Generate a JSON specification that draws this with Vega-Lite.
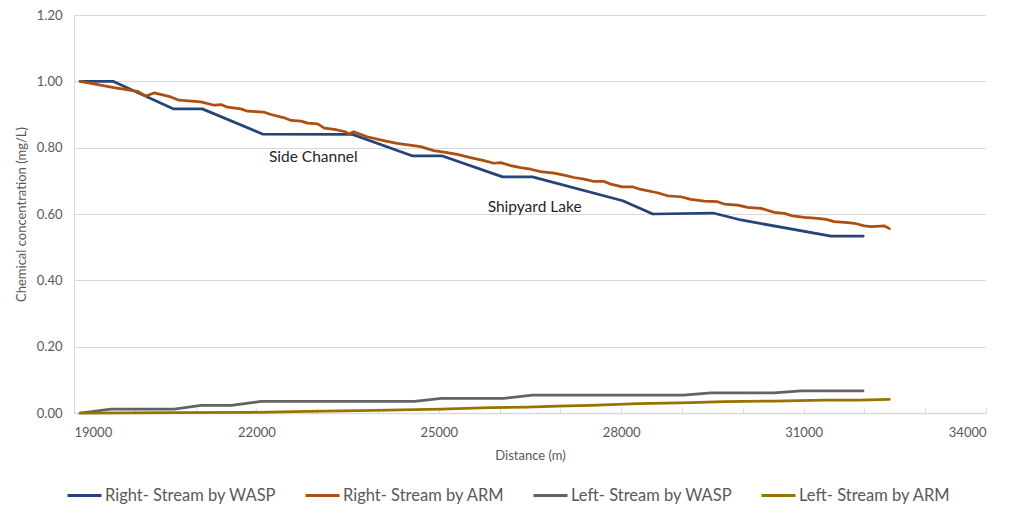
{
  "$schema": "https://vega.github.io/schema/vega-lite/v6.json",
  "width": 912,
  "height": 398,
  "autosize": {"type": "none"},
  "padding": {"left": 74, "top": 15, "right": 27, "bottom": 98},
  "background": "white",
  "config": {
    "view": {"stroke": null},
    "font": "Lato",
    "axis": {"labelFont": "Lato", "titleFont": "Lato", "labelColor": "#595959", "titleColor": "#595959", "labelFontSize": 13, "titleFontSize": 13, "titleFontWeight": "normal", "domainColor": "#D9D9D9", "tickColor": "#D9D9D9", "gridColor": "#D9D9D9"}
  },
  "datasets": {
    "lines": [
      {"s": "Right- Stream by WASP", "d": 19100, "c": 1.0},
      {"s": "Right- Stream by WASP", "d": 19640, "c": 1.0},
      {"s": "Right- Stream by WASP", "d": 20630, "c": 0.917},
      {"s": "Right- Stream by WASP", "d": 21110, "c": 0.917},
      {"s": "Right- Stream by WASP", "d": 22100, "c": 0.841},
      {"s": "Right- Stream by WASP", "d": 23580, "c": 0.84},
      {"s": "Right- Stream by WASP", "d": 24570, "c": 0.775},
      {"s": "Right- Stream by WASP", "d": 25060, "c": 0.775},
      {"s": "Right- Stream by WASP", "d": 26050, "c": 0.712},
      {"s": "Right- Stream by WASP", "d": 26540, "c": 0.712},
      {"s": "Right- Stream by WASP", "d": 28025, "c": 0.64},
      {"s": "Right- Stream by WASP", "d": 28520, "c": 0.6},
      {"s": "Right- Stream by WASP", "d": 29510, "c": 0.603},
      {"s": "Right- Stream by WASP", "d": 29970, "c": 0.582},
      {"s": "Right- Stream by WASP", "d": 31450, "c": 0.533},
      {"s": "Right- Stream by WASP", "d": 31980, "c": 0.533},
      {"s": "Right- Stream by ARM", "d": 19100, "c": 1.0},
      {"s": "Right- Stream by ARM", "d": 19659, "c": 0.981},
      {"s": "Right- Stream by ARM", "d": 20043, "c": 0.97},
      {"s": "Right- Stream by ARM", "d": 20181, "c": 0.956},
      {"s": "Right- Stream by ARM", "d": 20318, "c": 0.965},
      {"s": "Right- Stream by ARM", "d": 20593, "c": 0.953},
      {"s": "Right- Stream by ARM", "d": 20729, "c": 0.943},
      {"s": "Right- Stream by ARM", "d": 21087, "c": 0.938},
      {"s": "Right- Stream by ARM", "d": 21306, "c": 0.928},
      {"s": "Right- Stream by ARM", "d": 21416, "c": 0.93},
      {"s": "Right- Stream by ARM", "d": 21525, "c": 0.922},
      {"s": "Right- Stream by ARM", "d": 21745, "c": 0.917},
      {"s": "Right- Stream by ARM", "d": 21854, "c": 0.91},
      {"s": "Right- Stream by ARM", "d": 22129, "c": 0.907},
      {"s": "Right- Stream by ARM", "d": 22240, "c": 0.9},
      {"s": "Right- Stream by ARM", "d": 22459, "c": 0.89},
      {"s": "Right- Stream by ARM", "d": 22569, "c": 0.882},
      {"s": "Right- Stream by ARM", "d": 22734, "c": 0.88},
      {"s": "Right- Stream by ARM", "d": 22843, "c": 0.874},
      {"s": "Right- Stream by ARM", "d": 23007, "c": 0.872},
      {"s": "Right- Stream by ARM", "d": 23118, "c": 0.859},
      {"s": "Right- Stream by ARM", "d": 23282, "c": 0.855},
      {"s": "Right- Stream by ARM", "d": 23463, "c": 0.848},
      {"s": "Right- Stream by ARM", "d": 23518, "c": 0.841},
      {"s": "Right- Stream by ARM", "d": 23600, "c": 0.848},
      {"s": "Right- Stream by ARM", "d": 23821, "c": 0.833},
      {"s": "Right- Stream by ARM", "d": 24094, "c": 0.821},
      {"s": "Right- Stream by ARM", "d": 24315, "c": 0.813},
      {"s": "Right- Stream by ARM", "d": 24699, "c": 0.803},
      {"s": "Right- Stream by ARM", "d": 24918, "c": 0.791},
      {"s": "Right- Stream by ARM", "d": 25139, "c": 0.785},
      {"s": "Right- Stream by ARM", "d": 25303, "c": 0.78},
      {"s": "Right- Stream by ARM", "d": 25522, "c": 0.77},
      {"s": "Right- Stream by ARM", "d": 25742, "c": 0.761},
      {"s": "Right- Stream by ARM", "d": 25906, "c": 0.753},
      {"s": "Right- Stream by ARM", "d": 26016, "c": 0.755},
      {"s": "Right- Stream by ARM", "d": 26181, "c": 0.746},
      {"s": "Right- Stream by ARM", "d": 26346, "c": 0.74},
      {"s": "Right- Stream by ARM", "d": 26510, "c": 0.735},
      {"s": "Right- Stream by ARM", "d": 26675, "c": 0.728},
      {"s": "Right- Stream by ARM", "d": 26895, "c": 0.723},
      {"s": "Right- Stream by ARM", "d": 27059, "c": 0.717},
      {"s": "Right- Stream by ARM", "d": 27224, "c": 0.71},
      {"s": "Right- Stream by ARM", "d": 27389, "c": 0.705},
      {"s": "Right- Stream by ARM", "d": 27553, "c": 0.698},
      {"s": "Right- Stream by ARM", "d": 27718, "c": 0.698},
      {"s": "Right- Stream by ARM", "d": 27828, "c": 0.69},
      {"s": "Right- Stream by ARM", "d": 28020, "c": 0.682},
      {"s": "Right- Stream by ARM", "d": 28185, "c": 0.682},
      {"s": "Right- Stream by ARM", "d": 28322, "c": 0.674},
      {"s": "Right- Stream by ARM", "d": 28597, "c": 0.664},
      {"s": "Right- Stream by ARM", "d": 28762, "c": 0.655},
      {"s": "Right- Stream by ARM", "d": 28981, "c": 0.652},
      {"s": "Right- Stream by ARM", "d": 29146, "c": 0.644},
      {"s": "Right- Stream by ARM", "d": 29365, "c": 0.639},
      {"s": "Right- Stream by ARM", "d": 29585, "c": 0.637},
      {"s": "Right- Stream by ARM", "d": 29694, "c": 0.63},
      {"s": "Right- Stream by ARM", "d": 29915, "c": 0.627},
      {"s": "Right- Stream by ARM", "d": 30079, "c": 0.62},
      {"s": "Right- Stream by ARM", "d": 30298, "c": 0.617},
      {"s": "Right- Stream by ARM", "d": 30518, "c": 0.605},
      {"s": "Right- Stream by ARM", "d": 30682, "c": 0.602},
      {"s": "Right- Stream by ARM", "d": 30821, "c": 0.594},
      {"s": "Right- Stream by ARM", "d": 31012, "c": 0.59},
      {"s": "Right- Stream by ARM", "d": 31232, "c": 0.587},
      {"s": "Right- Stream by ARM", "d": 31369, "c": 0.584},
      {"s": "Right- Stream by ARM", "d": 31506, "c": 0.577},
      {"s": "Right- Stream by ARM", "d": 31726, "c": 0.574},
      {"s": "Right- Stream by ARM", "d": 31835, "c": 0.572},
      {"s": "Right- Stream by ARM", "d": 32000, "c": 0.564},
      {"s": "Right- Stream by ARM", "d": 32110, "c": 0.562},
      {"s": "Right- Stream by ARM", "d": 32330, "c": 0.564},
      {"s": "Right- Stream by ARM", "d": 32412, "c": 0.556},
      {"s": "Left- Stream by WASP", "d": 19100, "c": 0.0},
      {"s": "Left- Stream by WASP", "d": 19610, "c": 0.012},
      {"s": "Left- Stream by WASP", "d": 20647, "c": 0.012},
      {"s": "Left- Stream by WASP", "d": 21092, "c": 0.023},
      {"s": "Left- Stream by WASP", "d": 21586, "c": 0.023},
      {"s": "Left- Stream by WASP", "d": 22080, "c": 0.035},
      {"s": "Left- Stream by WASP", "d": 24600, "c": 0.035},
      {"s": "Left- Stream by WASP", "d": 25044, "c": 0.044},
      {"s": "Left- Stream by WASP", "d": 26066, "c": 0.044},
      {"s": "Left- Stream by WASP", "d": 26543, "c": 0.054},
      {"s": "Left- Stream by WASP", "d": 29030, "c": 0.054},
      {"s": "Left- Stream by WASP", "d": 29475, "c": 0.061},
      {"s": "Left- Stream by WASP", "d": 30513, "c": 0.061},
      {"s": "Left- Stream by WASP", "d": 30957, "c": 0.067},
      {"s": "Left- Stream by WASP", "d": 31978, "c": 0.067},
      {"s": "Left- Stream by ARM", "d": 19100, "c": 0.0},
      {"s": "Left- Stream by ARM", "d": 20650, "c": 0.001},
      {"s": "Left- Stream by ARM", "d": 21900, "c": 0.002},
      {"s": "Left- Stream by ARM", "d": 22840, "c": 0.005},
      {"s": "Left- Stream by ARM", "d": 23940, "c": 0.008},
      {"s": "Left- Stream by ARM", "d": 25040, "c": 0.012},
      {"s": "Left- Stream by ARM", "d": 25850, "c": 0.016},
      {"s": "Left- Stream by ARM", "d": 26455, "c": 0.018},
      {"s": "Left- Stream by ARM", "d": 26950, "c": 0.021},
      {"s": "Left- Stream by ARM", "d": 27500, "c": 0.023},
      {"s": "Left- Stream by ARM", "d": 28270, "c": 0.028},
      {"s": "Left- Stream by ARM", "d": 29150, "c": 0.031},
      {"s": "Left- Stream by ARM", "d": 29690, "c": 0.034},
      {"s": "Left- Stream by ARM", "d": 30510, "c": 0.036},
      {"s": "Left- Stream by ARM", "d": 31340, "c": 0.039},
      {"s": "Left- Stream by ARM", "d": 31890, "c": 0.039},
      {"s": "Left- Stream by ARM", "d": 32410, "c": 0.041}
    ],
    "notes": [
      {"label": "Side Channel", "d": 22936, "c": 0.772},
      {"label": "Shipyard Lake", "d": 26576, "c": 0.621}
    ]
  },
  "layer": [
    {
      "data": {"name": "lines"},
      "mark": {"type": "line", "strokeWidth": 2.75, "strokeJoin": "round", "strokeCap": "round"},
      "encoding": {
        "x": {
          "field": "d", "type": "quantitative", "title": "Distance (m)",
          "scale": {"domain": [19000, 34000], "nice": false, "zero": false},
          "axis": {
            "values": [19000, 20000, 21000, 22000, 23000, 24000, 25000, 26000, 27000, 28000, 29000, 30000, 31000, 32000, 33000, 34000],
            "labelExpr": "datum.value % 3000 == 1000 ? format(datum.value, 'd') : ''",
            "grid": false, "tickSize": -5, "labelPadding": 18, "titlePadding": 10, "domainWidth": 1.5
          }
        },
        "y": {
          "field": "c", "type": "quantitative", "title": "Chemical concentration (mg/L)",
          "scale": {"domain": [0, 1.2], "nice": false},
          "axis": {
            "values": [0, 0.1, 0.2, 0.3, 0.4, 0.5, 0.6, 0.7, 0.8, 0.9, 1.0, 1.1, 1.2],
            "labelExpr": "round(datum.value * 10) % 2 == 0 ? format(datum.value, '.2f') : ''",
            "gridOpacity": {"condition": {"test": "round(datum.value * 10) % 2 == 0", "value": 1}, "value": 0},
            "tickSize": -5, "labelPadding": 17, "titlePadding": 8
          }
        },
        "color": {
          "field": "s", "type": "nominal", "title": null,
          "scale": {
            "domain": ["Right- Stream by WASP", "Right- Stream by ARM", "Left- Stream by WASP", "Left- Stream by ARM"],
            "range": ["#264478", "#AD4F10", "#636363", "#997300"]
          },
          "legend": {
            "orient": "none", "legendX": -8, "legendY": 462, "direction": "horizontal", "symbolType": "stroke", "symbolStrokeWidth": 3,
            "symbolSize": 1156, "labelFont": "Lato", "labelFontSize": 16.5, "labelLimit": 400, "labelColor": "#595959", "columnPadding": 22, "labelOffset": 2
          }
        }
      }
    },
    {
      "data": {"name": "notes"},
      "mark": {"type": "text", "font": "Lato", "fontSize": 15.5, "color": "#262626"},
      "encoding": {
        "x": {"field": "d", "type": "quantitative"},
        "y": {"field": "c", "type": "quantitative"},
        "text": {"field": "label"}
      }
    }
  ]
}
